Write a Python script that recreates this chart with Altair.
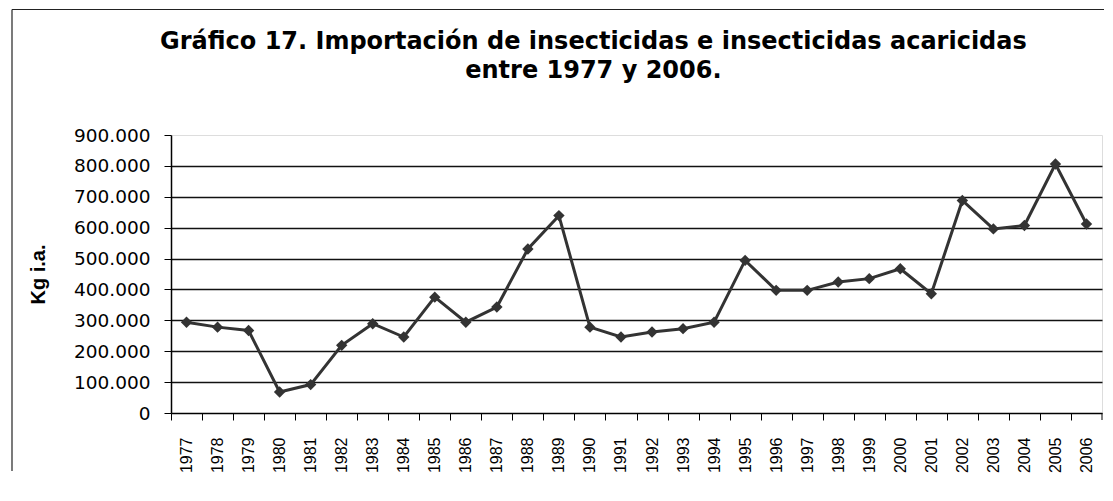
import altair as alt
import pandas as pd

years = list(range(1977, 2007))
kg_ia = [294000, 278000, 267000, 68000, 92000, 219000, 289000, 246000, 375000, 294000,
         343000, 531000, 639000, 278000, 246000, 262000, 273000, 294000, 494000, 397000,
         397000, 424000, 435000, 467000, 386000, 688000, 596000, 607000, 806000, 612000]
y_ticks = [0, 100000, 200000, 300000, 400000, 500000, 600000, 700000, 800000, 900000]
title_lines = ["Gráfico 17. Importación de insecticidas e insecticidas acaricidas",
               "entre 1977 y 2006."]
y_title = "Kg i.a."

df = pd.DataFrame({"year": years, "kg": kg_ia})
# category boundaries (Excel-style ticks between categories)
boundaries = [y - 0.5 for y in years]

W, H = 931, 278

x_axis = alt.Axis(
    values=boundaries,
    labelExpr="format(datum.value + 0.5, 'd')",
    labelOffset=W / 30 / 2,
    labelAngle=270,
    labelAlign="right",
    labelBaseline="middle",
    labelFont="Liberation Sans",
    labelFontSize=16,
    labelColor="black",
    labelPadding=17,
    labelFlush=False,
    tickSize=7,
    tickColor="black",
    domainColor="black",
    domainWidth=1.5,
    grid=False,
    title=None,
    labelOverlap=False,
    labelBound=False,
)
y_axis = alt.Axis(
    values=y_ticks,
    labelExpr="replace(format(datum.value, ','), ',', '.')",
    labelFont="DejaVu Sans",
    labelFontSize=18.5,
    labelColor="black",
    labelPadding=14,
    labelOverlap=False,
    tickSize=7,
    tickColor="black",
    domainColor="black",
    domainWidth=1.5,
    grid=True,
    gridColor={"condition": {"test": "datum.value >= 900000 || datum.value <= 0", "value": "transparent"}, "value": "#111111"},
    gridWidth=1.3,
    title=y_title,
    titleFont="Liberation Sans",
    titleFontSize=20,
    titleFontWeight="bold",
    titleColor="black",
    titlePadding=24.5,
)
x_scale = alt.Scale(domain=[years[0] - 0.5, years[-1] + 0.5], nice=False, zero=False)
y_scale = alt.Scale(domain=[0, 900000], nice=False)

x_enc = alt.X("year:Q", scale=x_scale, axis=x_axis)
y_enc = alt.Y("kg:Q", scale=y_scale, axis=y_axis)

series = alt.Chart(df).mark_line(
    color="#333333", strokeWidth=3,
    point=alt.OverlayMarkDef(shape="diamond", filled=True, size=130, color="#333333", opacity=1),
).encode(x=x_enc, y=y_enc)

one = pd.DataFrame({"a": [0]})
# closing tick at the right end of the category axis
end_tick = alt.Chart(one).mark_rule(color="black", strokeWidth=1).encode(
    x=alt.value(W), y=alt.value(H), y2=alt.value(H + 7)
)
frame_top = alt.Chart(one).mark_rule(color="#222222", strokeWidth=1.2).encode(
    x=alt.value(-159), x2=alt.value(W + 2), y=alt.value(-125.5)
)
frame_left = alt.Chart(one).mark_rule(color="#222222", strokeWidth=1.2).encode(
    x=alt.value(-159), y=alt.value(-125.5), y2=alt.value(336)
)

title_font = dict(font="DejaVu Sans", fontSize=24, fontWeight="bold", color="black",
                  align="center", baseline="alphabetic")
title1 = alt.Chart(pd.DataFrame({"t": [title_lines[0]]})).mark_text(**title_font).encode(
    text="t:N", x=alt.value(422.4), y=alt.value(-86.3))
title2 = alt.Chart(pd.DataFrame({"t": [title_lines[1]]})).mark_text(**title_font).encode(
    text="t:N", x=alt.value(422.4), y=alt.value(-57.3))

chart = (
    alt.layer(series, end_tick, frame_top, frame_left, title1, title2)
    .properties(
        width=W,
        height=H,
        padding={"left": 3, "top": 0, "right": 0, "bottom": 0},
    )
    .configure_view(stroke="#a0a0a0", strokeWidth=1.5)
    .configure(background="white")
)

chart.save("out.html", embed_options={"renderer": "svg", "actions": False})
